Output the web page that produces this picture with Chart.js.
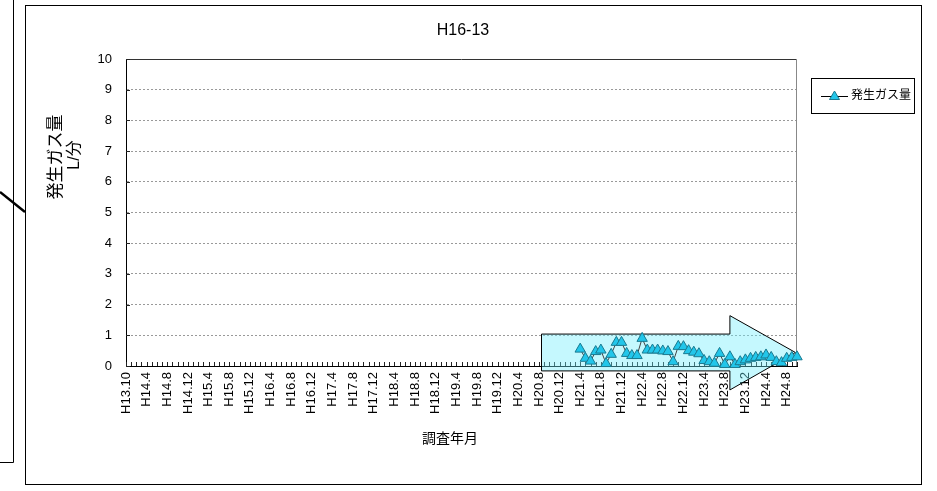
<!DOCTYPE html>
<html lang="ja">
<head>
<meta charset="utf-8">
<title>H16-13</title>
<script src="https://cdn.jsdelivr.net/npm/chart.js@4.4.1/dist/chart.umd.min.js"></script>
<style>
  html, body { margin: 0; padding: 0; background: #fff; }
  #wrap { width: 937px; height: 491px; position: relative; }
</style>
</head>
<body>
<div id="wrap"><canvas id="chart"></canvas></div>
<script>
const chartTitle = "H16-13";
const seriesName = "発生ガス量";
const yTitleLines = ["発生ガス量", "L/分"];
const xTitle = "調査年月";

// axis labels, one every 4 survey steps
const tickLabels = [
    "H13.10", "H14.4", "H14.8", "H14.12", "H15.4", "H15.8", "H15.12",
    "H16.4", "H16.8", "H16.12", "H17.4", "H17.8", "H17.12", "H18.4",
    "H18.8", "H18.12", "H19.4", "H19.8", "H19.12", "H20.4", "H20.8",
    "H20.12", "H21.4", "H21.8", "H21.12", "H22.4", "H22.8", "H22.12",
    "H23.4", "H23.8", "H23.12", "H24.4", "H24.8"
];
const stepsPerLabel = 4;
const stepsAfterLast = 2;

// readings start at H21.4 (step 88), nothing measured before that
const firstReadingStep = 88;
const gasValues = [
    0.55, 0.25, 0.16, 0.47, 0.52, 0.08, 0.38, 0.77, 0.77, 0.41,
    0.34, 0.34, 0.90, 0.52, 0.52, 0.52, 0.49, 0.47, 0.14, 0.64,
    0.63, 0.50, 0.45, 0.40, 0.18, 0.14, 0.09, 0.41, 0.05, 0.30,
    0.05, 0.14, 0.20, 0.25, 0.28, 0.30, 0.36, 0.28, 0.14, 0.11,
    0.25, 0.28, 0.30
];

const yMin = 0;
const yMax = 10;
const yStep = 1;

// big trend arrow drawn over the plot (step index / value units)
const arrowStartStep = 80.5;
const arrowHeadStep = 117;
const arrowTipStep = 129.7;
const arrowBodyTop = 1.04;
const arrowBodyBottom = -0.16;
const arrowHeadTop = 1.64;
const arrowHeadBottom = -0.78;
const arrowTipValue = 0.44;

const FONT = "'Liberation Sans', 'Noto Sans CJK JP', sans-serif";
const MARKER_FILL = "#22c6ea";
const MARKER_EDGE = "#1a7a90";

// build the category list and padded series
const categories = [];
tickLabels.forEach((lab, i) => {
    categories.push(lab);
    if (i < tickLabels.length - 1) {
        for (let k = 1; k < stepsPerLabel; k++) categories.push("");
    }
});
for (let k = 0; k < stepsAfterLast; k++) categories.push("");

const seriesData = new Array(firstReadingStep).fill(null).concat(gasValues);

const decorPlugin = {
    id: "decor",
    beforeDraw(chart) {
        const ctx = chart.ctx;
        ctx.save();
        ctx.fillStyle = "#fff";
        ctx.fillRect(0, 0, chart.width, chart.height);

        // outer frame
        ctx.strokeStyle = "#000";
        ctx.lineWidth = 1;
        ctx.strokeRect(25.5, 5.5, 896, 479);

        // bit of the neighbouring sheet on the left
        ctx.beginPath();
        ctx.moveTo(13.5, 0);
        ctx.lineTo(13.5, 462.5);
        ctx.lineTo(0, 462.5);
        ctx.stroke();
        ctx.lineWidth = 2.5;
        ctx.beginPath();
        ctx.moveTo(0, 192);
        ctx.lineTo(25, 212);
        ctx.stroke();

        // title
        ctx.fillStyle = "#000";
        ctx.font = "16px " + FONT;
        ctx.textAlign = "center";
        ctx.textBaseline = "middle";
        ctx.fillText(chartTitle, 463, 31);

        // y title, rotated
        ctx.save();
        ctx.translate(56, 157);
        ctx.rotate(-Math.PI / 2);
        ctx.font = "17px " + FONT;
        ctx.fillText(yTitleLines[0], 0, 0);
        ctx.restore();
        ctx.save();
        ctx.translate(75, 155);
        ctx.rotate(-Math.PI / 2);
        ctx.font = "16px " + FONT;
        ctx.fillText(yTitleLines[1], 0, 0);
        ctx.restore();

        // x title
        ctx.font = "14px " + FONT;
        ctx.fillText(xTitle, 450, 439);
        ctx.restore();
    },
    beforeDatasetsDraw(chart) {
        const ctx = chart.ctx;
        const xs = chart.scales.x;
        const ys = chart.scales.y;
        const area = chart.chartArea;
        ctx.save();

        // plot area top and right edges
        ctx.lineWidth = 1;
        ctx.strokeStyle = "#333";
        ctx.beginPath();
        ctx.moveTo(area.left, Math.round(area.top) + 0.5);
        ctx.lineTo(area.right, Math.round(area.top) + 0.5);
        ctx.stroke();
        ctx.strokeStyle = "#888";
        ctx.beginPath();
        ctx.moveTo(Math.round(area.right) - 0.5, area.top);
        ctx.lineTo(Math.round(area.right) - 0.5, area.bottom);
        ctx.stroke();

        // inside tick marks
        ctx.strokeStyle = "#222";
        const yb = Math.round(area.bottom);
        ctx.beginPath();
        for (let i = 0; i < categories.length; i++) {
            const px = Math.round(xs.getPixelForValue(i)) + 0.5;
            ctx.moveTo(px, yb);
            ctx.lineTo(px, yb - 4);
        }
        for (let v = yMin; v <= yMax; v += yStep) {
            const py = Math.round(ys.getPixelForValue(v)) + 0.5;
            ctx.moveTo(area.left, py);
            ctx.lineTo(area.left + 4, py);
        }
        ctx.stroke();

        // trend arrow
        const X = s => xs.getPixelForValue(s);
        const Y = v => ys.getPixelForValue(v);
        ctx.beginPath();
        ctx.moveTo(X(arrowStartStep), Y(arrowBodyTop));
        ctx.lineTo(X(arrowHeadStep), Y(arrowBodyTop));
        ctx.lineTo(X(arrowHeadStep), Y(arrowHeadTop));
        ctx.lineTo(X(arrowTipStep), Y(arrowTipValue));
        ctx.lineTo(X(arrowHeadStep), Y(arrowHeadBottom));
        ctx.lineTo(X(arrowHeadStep), Y(arrowBodyBottom));
        ctx.lineTo(X(arrowStartStep), Y(arrowBodyBottom));
        ctx.closePath();
        ctx.fillStyle = "rgba(110, 238, 252, 0.4)";
        ctx.fill();
        ctx.strokeStyle = "#000";
        ctx.lineWidth = 1;
        ctx.stroke();
        ctx.restore();
    },
    afterDraw(chart) {
        // legend box
        const ctx = chart.ctx;
        ctx.save();
        ctx.fillStyle = "#fff";
        ctx.fillRect(811, 78, 103, 35);
        ctx.strokeStyle = "#000";
        ctx.lineWidth = 1;
        ctx.strokeRect(811.5, 78.5, 103, 35);
        ctx.strokeStyle = "#000";
        ctx.beginPath();
        ctx.moveTo(821, 96.5);
        ctx.lineTo(848, 96.5);
        ctx.stroke();
        ctx.beginPath();
        ctx.moveTo(834.5, 91);
        ctx.lineTo(839.5, 99.5);
        ctx.lineTo(829.5, 99.5);
        ctx.closePath();
        ctx.fillStyle = MARKER_FILL;
        ctx.fill();
        ctx.strokeStyle = MARKER_EDGE;
        ctx.stroke();
        ctx.fillStyle = "#000";
        ctx.font = "12px " + FONT;
        ctx.textAlign = "left";
        ctx.textBaseline = "middle";
        ctx.fillText(seriesName, 851, 96);
        ctx.restore();
    }
};

new Chart(document.getElementById("chart"), {
    type: "line",
    data: {
        labels: categories,
        datasets: [{
            label: seriesName,
            data: seriesData,
            borderColor: "#444",
            borderWidth: 1,
            pointStyle: "triangle",
            pointRadius: 6,
            pointBackgroundColor: MARKER_FILL,
            pointBorderColor: MARKER_EDGE,
            pointBorderWidth: 1,
            tension: 0,
            spanGaps: false,
            clip: false
        }]
    },
    options: {
        responsive: true,
        maintainAspectRatio: false,
        animation: false,
        layout: { padding: { top: 59, right: 140, bottom: 0, left: 0 } },
        plugins: {
            legend: { display: false },
            title: { display: false },
            tooltip: { enabled: false }
        },
        scales: {
            x: {
                type: "category",
                offset: false,
                afterFit: s => { s.height = 125; },
                grid: { display: false, drawTicks: false },
                border: { display: true, color: "#000", width: 1 },
                ticks: {
                    autoSkip: false,
                    minRotation: 90,
                    maxRotation: 90,
                    padding: 6,
                    color: "#000",
                    font: { family: FONT, size: 13 },
                    callback: (v, i) => categories[i]
                }
            },
            y: {
                min: yMin,
                max: yMax,
                afterFit: s => { s.width = 126; },
                grid: { color: "#999", lineWidth: 1, drawTicks: false },
                border: { display: true, color: "#000", width: 1, dash: [2, 2] },
                ticks: {
                    stepSize: yStep,
                    padding: 14,
                    color: "#000",
                    font: { family: FONT, size: 13 }
                }
            }
        }
    },
    plugins: [decorPlugin]
});
</script>
</body>
</html>
